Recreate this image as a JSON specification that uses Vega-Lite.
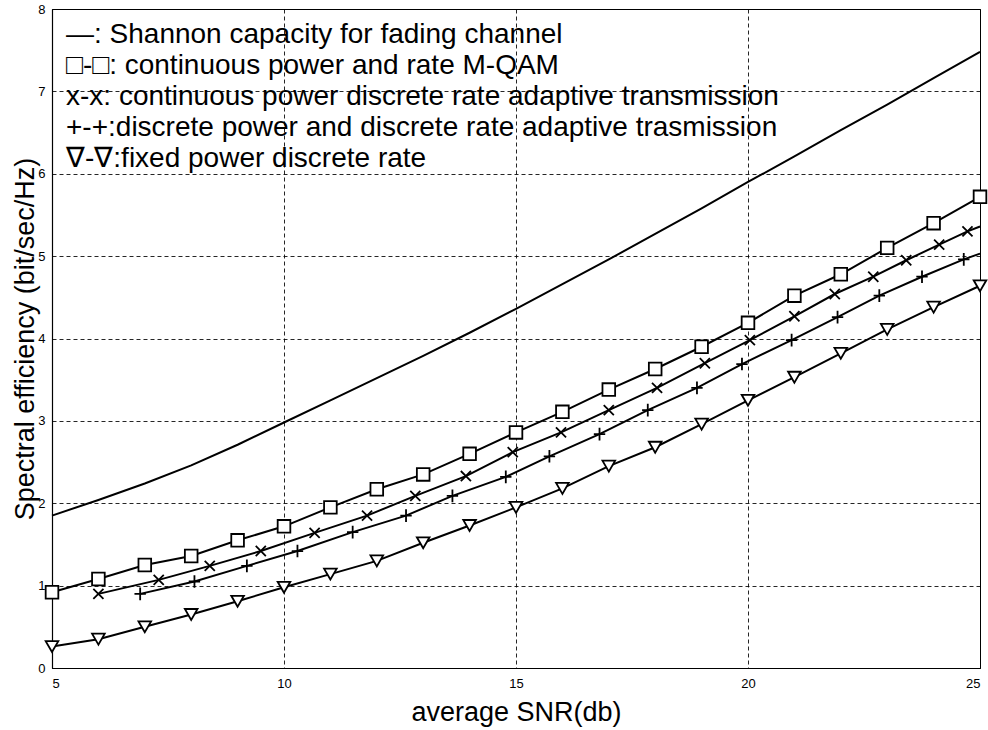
{
  "$schema": "https://vega.github.io/schema/vega-lite/v6.json",
  "width": 928,
  "height": 659,
  "autosize": {"type": "none"},
  "padding": {"left": 52, "top": 9, "right": 8, "bottom": 62},
  "background": "white",
  "config": {
    "view": {"stroke": "black", "strokeWidth": 1},
    "axis": {
      "gridColor": "black", "gridDash": [4, 3], "gridOpacity": 0.85, "gridWidth": 1,
      "domainColor": "black", "domainWidth": 1.2,
      "ticks": false, "tickSize": 0,
      "labelFont": "Liberation Sans", "labelFontSize": 13, "labelColor": "black",
      "titleFont": "Liberation Sans", "titleFontSize": 27, "titleFontWeight": "normal", "titleColor": "black"
    },
    "legend": {
      "padding": 0,
      "labelFont": "Liberation Sans", "labelFontSize": 28, "labelColor": "black",
      "symbolSize": 0, "symbolOpacity": 0, "symbolStrokeWidth": 0,
      "labelOffset": 0, "rowPadding": 3, "labelLimit": 900
    }
  },
  "data": {
    "values": [
      {"s": "shannon", "snr": 5, "se": 1.85}, {"s": "shannon", "snr": 6, "se": 2.04}, {"s": "shannon", "snr": 7, "se": 2.24},
      {"s": "shannon", "snr": 8, "se": 2.46}, {"s": "shannon", "snr": 9, "se": 2.71}, {"s": "shannon", "snr": 10, "se": 2.98},
      {"s": "shannon", "snr": 11, "se": 3.25}, {"s": "shannon", "snr": 12, "se": 3.52}, {"s": "shannon", "snr": 13, "se": 3.79},
      {"s": "shannon", "snr": 14, "se": 4.07}, {"s": "shannon", "snr": 15, "se": 4.36}, {"s": "shannon", "snr": 16, "se": 4.66},
      {"s": "shannon", "snr": 17, "se": 4.96}, {"s": "shannon", "snr": 18, "se": 5.27}, {"s": "shannon", "snr": 19, "se": 5.58},
      {"s": "shannon", "snr": 20, "se": 5.90}, {"s": "shannon", "snr": 21, "se": 6.21}, {"s": "shannon", "snr": 22, "se": 6.53},
      {"s": "shannon", "snr": 23, "se": 6.84}, {"s": "shannon", "snr": 24, "se": 7.16}, {"s": "shannon", "snr": 25, "se": 7.48},

      {"s": "sq", "snr": 5, "se": 0.92}, {"s": "sq", "snr": 6, "se": 1.08}, {"s": "sq", "snr": 7, "se": 1.25},
      {"s": "sq", "snr": 8, "se": 1.36}, {"s": "sq", "snr": 9, "se": 1.55}, {"s": "sq", "snr": 10, "se": 1.72},
      {"s": "sq", "snr": 11, "se": 1.95}, {"s": "sq", "snr": 12, "se": 2.17}, {"s": "sq", "snr": 13, "se": 2.35},
      {"s": "sq", "snr": 14, "se": 2.60}, {"s": "sq", "snr": 15, "se": 2.86}, {"s": "sq", "snr": 16, "se": 3.11},
      {"s": "sq", "snr": 17, "se": 3.38}, {"s": "sq", "snr": 18, "se": 3.63}, {"s": "sq", "snr": 19, "se": 3.90},
      {"s": "sq", "snr": 20, "se": 4.19}, {"s": "sq", "snr": 21, "se": 4.52}, {"s": "sq", "snr": 22, "se": 4.78},
      {"s": "sq", "snr": 23, "se": 5.10}, {"s": "sq", "snr": 24, "se": 5.40}, {"s": "sq", "snr": 25, "se": 5.72},

      {"s": "x", "snr": 6, "se": 0.90}, {"s": "x", "snr": 7.3, "se": 1.07}, {"s": "x", "snr": 8.4, "se": 1.24},
      {"s": "x", "snr": 9.5, "se": 1.42}, {"s": "x", "snr": 10.66, "se": 1.64}, {"s": "x", "snr": 11.79, "se": 1.85},
      {"s": "x", "snr": 12.83, "se": 2.09}, {"s": "x", "snr": 13.92, "se": 2.33}, {"s": "x", "snr": 14.93, "se": 2.62},
      {"s": "x", "snr": 15.97, "se": 2.86}, {"s": "x", "snr": 17.0, "se": 3.13}, {"s": "x", "snr": 18.04, "se": 3.40},
      {"s": "x", "snr": 19.07, "se": 3.70}, {"s": "x", "snr": 20.04, "se": 3.98}, {"s": "x", "snr": 21.0, "se": 4.27},
      {"s": "x", "snr": 21.87, "se": 4.54}, {"s": "x", "snr": 22.7, "se": 4.75}, {"s": "x", "snr": 23.41, "se": 4.95},
      {"s": "x", "snr": 24.12, "se": 5.14}, {"s": "x", "snr": 24.73, "se": 5.30}, {"s": "x", "snr": 25, "se": 5.36},

      {"s": "plus", "snr": 6.9, "se": 0.90}, {"s": "plus", "snr": 8.07, "se": 1.05}, {"s": "plus", "snr": 9.2, "se": 1.24},
      {"s": "plus", "snr": 10.29, "se": 1.42}, {"s": "plus", "snr": 11.48, "se": 1.65}, {"s": "plus", "snr": 12.63, "se": 1.85},
      {"s": "plus", "snr": 13.63, "se": 2.09}, {"s": "plus", "snr": 14.78, "se": 2.32}, {"s": "plus", "snr": 15.72, "se": 2.57},
      {"s": "plus", "snr": 16.8, "se": 2.84}, {"s": "plus", "snr": 17.84, "se": 3.13}, {"s": "plus", "snr": 18.9, "se": 3.40},
      {"s": "plus", "snr": 19.87, "se": 3.69}, {"s": "plus", "snr": 20.94, "se": 3.98}, {"s": "plus", "snr": 21.93, "se": 4.26},
      {"s": "plus", "snr": 22.83, "se": 4.52}, {"s": "plus", "snr": 23.75, "se": 4.75}, {"s": "plus", "snr": 24.65, "se": 4.96},
      {"s": "plus", "snr": 25, "se": 5.03},

      {"s": "tri", "snr": 5, "se": 0.26}, {"s": "tri", "snr": 6, "se": 0.35}, {"s": "tri", "snr": 7, "se": 0.50},
      {"s": "tri", "snr": 8, "se": 0.65}, {"s": "tri", "snr": 9, "se": 0.81}, {"s": "tri", "snr": 10, "se": 0.98},
      {"s": "tri", "snr": 11, "se": 1.14}, {"s": "tri", "snr": 12, "se": 1.30}, {"s": "tri", "snr": 13, "se": 1.52},
      {"s": "tri", "snr": 14, "se": 1.73}, {"s": "tri", "snr": 15, "se": 1.95}, {"s": "tri", "snr": 16, "se": 2.18},
      {"s": "tri", "snr": 17, "se": 2.45}, {"s": "tri", "snr": 18, "se": 2.68}, {"s": "tri", "snr": 19, "se": 2.96},
      {"s": "tri", "snr": 20, "se": 3.25}, {"s": "tri", "snr": 21, "se": 3.53}, {"s": "tri", "snr": 22, "se": 3.82},
      {"s": "tri", "snr": 23, "se": 4.11}, {"s": "tri", "snr": 24, "se": 4.38}, {"s": "tri", "snr": 25, "se": 4.64}
    ]
  },
  "encoding": {
    "x": {
      "field": "snr", "type": "quantitative",
      "scale": {"domain": [5, 25], "nice": false, "zero": false},
      "axis": {"values": [5, 10, 15, 20, 25], "title": "average SNR(db)", "labelPadding": 9,
               "titleX": 464, "titleY": 52, "titleBaseline": "alphabetic", "titleAlign": "center"}
    },
    "y": {
      "field": "se", "type": "quantitative",
      "scale": {"domain": [0, 8], "nice": false},
      "axis": {"values": [0, 1, 2, 3, 4, 5, 6, 7, 8], "title": "Spectral efficiency (bit/sec/Hz)", "labelPadding": 7,
               "titleX": -19, "titleY": 329.5, "titleBaseline": "alphabetic", "titleAlign": "center", "titleAngle": -90}
    }
  },
  "layer": [
    {
      "mark": {"type": "line", "strokeWidth": 2},
      "encoding": {
        "color": {
          "field": "s", "type": "nominal",
          "scale": {"domain": ["shannon", "sq", "x", "plus", "tri"], "range": ["black", "black", "black", "black", "black"]},
          "legend": {
            "title": null,
            "orient": "none",
            "legendX": -14,
            "legendY": 12,
            "labelExpr": "datum.value == 'shannon' ? '—: Shannon capacity for fading channel' : datum.value == 'sq' ? '□-□: continuous power and rate M-QAM' : datum.value == 'x' ? 'x-x: continuous power discrete rate adaptive transmission' : datum.value == 'plus' ? '+-+:discrete power and discrete rate adaptive trasmission' : '∇-∇:fixed power discrete rate'"
          }
        }
      }
    },
    {
      "transform": [
        {"filter": "datum.s != 'shannon' && !(datum.snr == 25 && (datum.s == 'x' || datum.s == 'plus'))"}
      ],
      "mark": {"type": "point", "filled": true, "fill": "white", "stroke": "black", "strokeWidth": 1.8, "size": 160, "opacity": 1, "clip": false},
      "encoding": {
        "shape": {
          "field": "s", "type": "nominal",
          "scale": {"domain": ["sq", "x", "plus", "tri"], "range": ["square", "M-0.8,-0.8L0.8,0.8M-0.8,0.8L0.8,-0.8", "M-0.9,0L0.9,0M0,-1L0,1", "triangle-down"]},
          "legend": null
        }
      }
    }
  ]
}
